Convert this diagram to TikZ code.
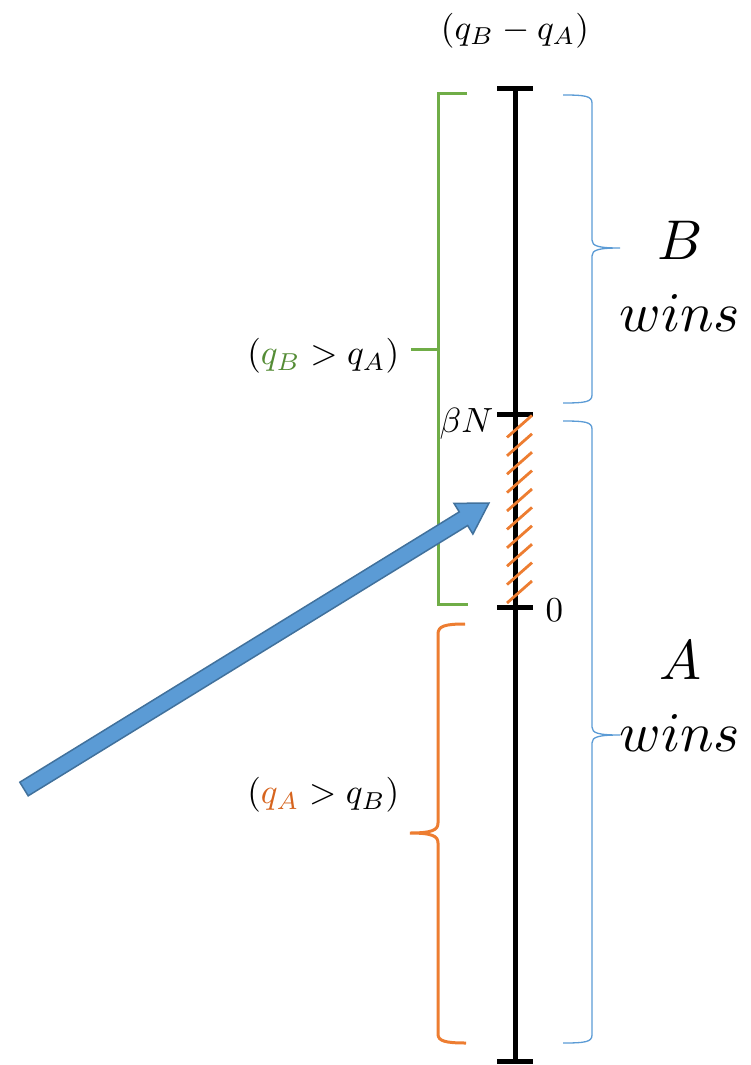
\documentclass[tikz,border=0pt]{standalone}
\usepackage{amsmath}
\usepackage{tikz}
\usetikzlibrary{arrows.meta,positioning,calc}
\definecolor{brackgreen}{RGB}{112,173,71}
\definecolor{brackorange}{RGB}{237,125,49}
\definecolor{braceblue}{RGB}{91,155,213}
\definecolor{arrowblue}{RGB}{91,155,213}
\definecolor{arrowedge}{RGB}{65,113,156}
\definecolor{textgreen}{RGB}{84,140,53}
\definecolor{textorange}{RGB}{214,100,30}
\tikzset{
  axisline/.style={line width=5pt,draw=black},
  tickline/.style={line width=5pt,draw=black},
  greenbrack/.style={line width=3pt,draw=brackgreen,line join=miter},
  orangebrace/.style={line width=3pt,draw=brackorange},
  bluebrace/.style={line width=1.3pt,draw=braceblue},
  hatchline/.style={line width=2.8pt,draw=brackorange},
  midlabel/.style={font=\fontsize{10}{12}\selectfont,inner sep=0pt,scale=3.5},
  winlabel/.style={font=\fontsize{10}{12.9}\selectfont,align=center,inner sep=0pt,scale=5.6},
  bigarrow/.style={fill=arrowblue,draw=arrowedge,line width=1.5pt,line join=miter}
}
\begin{document}
\begin{tikzpicture}[x=1pt,y=-1pt]
  \useasboundingbox (0,0) rectangle (751,1065);
  % the axis and its ticks
  \coordinate (top) at (515,88);
  \coordinate (bn) at (515,414);
  \coordinate (zero) at (515,607);
  \coordinate (bottom) at (515,1061);
  \draw[axisline] (top)--(bottom);
  \foreach \c in {top,bn,zero,bottom}
    \draw[tickline] ($(\c)+(-18,0)$)--($(\c)+(18,0)$);
  \node[midlabel] (axistitle) at (515,31) {$(q_B-q_A)$};
  \node[midlabel,anchor=base east] (bnlabel) at (494,432) {$\beta N$};
  \node[midlabel,anchor=base west] (zerolabel) at (545,621) {$0$};
  % hatched part
  \foreach \k in {0,...,9}
    \draw[hatchline] ($(zero)+(-8,-4-18.4*\k)$)--++(25,-22);
  % green bracket
  \coordinate (gmid) at (411,349);
  \draw[greenbrack] (467,93)--(438,93)--(438,604)--(468,604);
  \draw[greenbrack] (438,349)--(gmid);
  \node[midlabel,anchor=east] (bgta) at (400,356) {$(\textcolor{textgreen}{q_B}>q_A)$};
  % orange brace
  \coordinate (omid) at (410,833);
  \draw[orangebrace] (465,624) .. controls (445,624) and (438,626) .. (438,634)
    -- (438,823) .. controls (438,830) and (432,833) .. (omid)
    .. controls (432,833) and (438,836) .. (438,843)
    -- (438,1034) .. controls (438,1041) and (445,1043) .. (466,1043);
  \node[midlabel,anchor=east] (agtb) at (400,795) {$(\textcolor{textorange}{q_A}>q_B)$};
  % blue braces
  \coordinate (bmid) at (620,248);
  \coordinate (amid) at (620,735);
  \draw[bluebrace] (563,95) .. controls (585,95) and (592,96) .. (592,103)
    -- (592,240) .. controls (592,246) and (598,248) .. (bmid)
    .. controls (598,248) and (592,250) .. (592,256)
    -- (592,395) .. controls (592,402) and (585,403) .. (563,403);
  \draw[bluebrace] (563,421) .. controls (585,421) and (592,422) .. (592,429)
    -- (592,727) .. controls (592,733) and (598,735) .. (amid)
    .. controls (598,735) and (592,737) .. (592,743)
    -- (592,1035) .. controls (592,1042) and (585,1043) .. (563,1043);
  \node[winlabel] (bwins) at (680,276) {$B$\\$wins$};
  \node[winlabel] (awins) at (680,696) {$A$\\$wins$};
  % block arrow
  \coordinate (tail) at (24,789);
  \coordinate (tip) at (489,503);
  \coordinate (hb) at ($(tip)!30pt!(tail)$);
  \filldraw[bigarrow] ($(tail)!8pt!90:(tip)$)--($(hb)!8pt!90:(tip)$)
    --($(hb)!18pt!90:(tip)$)--(tip)--($(hb)!18pt!-90:(tip)$)
    --($(hb)!8pt!-90:(tip)$)--($(tail)!8pt!-90:(tip)$)--cycle;
\end{tikzpicture}
\end{document}
